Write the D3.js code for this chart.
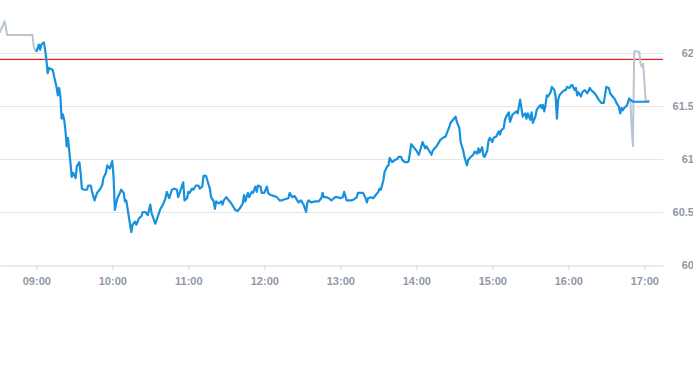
<!DOCTYPE html>
<html>
<head>
<meta charset="utf-8">
<script src="https://cdn.jsdelivr.net/npm/d3@7"></script>
<style>
  html, body { margin: 0; padding: 0; background: #fff; }
  svg { display: block; }
  text { font-family: "Liberation Sans", Arial, sans-serif; }
</style>
</head>
<body>
<svg id="chart" width="693" height="365"></svg>
<script>
// ---- data (minutes after 09:00, price) ----
const hourTicks = [0, 60, 120, 180, 240, 300, 360, 420, 480];
const hourLabels = ["09:00","10:00","11:00","12:00","13:00","14:00","15:00","16:00","17:00"];
const priceTicks = [60, 60.5, 61, 61.5, 62];
const priceLabels = ["60", "60.5", "61", "61.5", "62"];
const previousClose = 61.94;

const preMinutes = [-29, -25, -23, -3, -2, -1, 0];
const prePrices  = [62.19, 62.30, 62.17, 62.17, 62.05, 62.03, 62.01];

const mainMinutes = [
  0,2,3,4,6,7,8,9,10,13,
  14,16,17,18,19,20,21,22,23,24,
  25,26,27,28,29,31,32,34,35,36,
  38,40,41,43,44,46,48,50,52,53,
  55,56,58,60,61,62,64,66,67,69,
  70,71,73,75,76,78,79,81,83,84,
  86,88,90,91,93,94,96,98,100,102,
  103,105,107,109,111,112,114,116,117,119,
  120,121,123,124,126,128,129,131,132,134,
  135,137,138,140,141,142,144,146,147,148,
  150,152,154,156,157,159,161,163,164,165,
  167,168,170,171,173,174,175,177,178,180,
  182,183,185,188,190,192,194,196,199,200,
  202,204,206,207,209,211,213,214,215,217,
  220,223,225,226,227,229,231,233,234,236,
  238,240,242,243,245,247,249,251,253,254,
  256,258,260,261,262,264,266,268,270,271,
  272,274,275,277,278,279,281,283,285,286,
  288,289,291,293,294,296,298,300,302,303,
  305,307,308,310,312,313,316,317,319,321,
  323,324,326,327,329,331,332,334,335,337,
  338,340,341,343,345,346,348,349,350,352,
  353,354,356,357,358,360,361,363,365,366,
  367,369,370,371,373,374,376,379,380,382,
  384,386,387,388,390,391,392,394,395,396,
  398,399,400,401,402,403,404,406,407,409,
  410,411,412,413,415,417,418,419,421,422,
  423,425,426,427,428,430,431,433,435,437,
  438,440,442,444,446,448,449,450,452,453,
  455,457,458,460,461,462,463,464,466,467,
  468,469,471,484
];
const mainPrices = [
  62.01,62.08,62.03,62.08,62.10,62.03,61.93,61.81,61.86,61.84,
  61.78,61.68,61.60,61.67,61.59,61.38,61.42,61.37,61.27,61.12,
  61.20,61.08,60.96,60.83,60.87,60.82,60.93,60.97,60.87,60.72,
  60.71,60.71,60.75,60.75,60.69,60.61,60.68,60.71,60.75,60.82,
  60.87,60.94,60.91,60.98,60.83,60.52,60.63,60.68,60.71,60.68,
  60.60,60.61,60.46,60.31,60.38,60.41,60.38,60.44,60.46,60.50,
  60.50,60.47,60.57,60.49,60.42,60.39,60.46,60.53,60.57,60.63,
  60.69,60.63,60.71,60.72,60.71,60.64,60.71,60.78,60.61,60.63,
  60.69,60.68,60.72,60.71,60.75,60.75,60.72,60.74,60.84,60.84,
  60.80,60.72,60.64,60.60,60.53,60.60,60.58,60.60,60.57,60.61,
  60.64,60.61,60.58,60.54,60.52,60.51,60.54,60.58,60.66,60.60,
  60.68,60.64,60.69,60.68,60.74,60.69,60.75,60.74,60.68,60.68,
  60.74,60.68,60.66,60.65,60.64,60.61,60.61,60.62,60.63,60.68,
  60.64,60.65,60.61,60.59,60.61,60.57,60.50,60.59,60.61,60.59,
  60.60,60.60,60.63,60.68,60.64,60.64,60.63,60.61,60.62,60.64,
  60.64,60.63,60.64,60.69,60.61,60.61,60.61,60.62,60.64,60.68,
  60.68,60.68,60.63,60.59,60.63,60.64,60.63,60.66,60.69,60.72,
  60.71,60.80,60.88,60.93,60.94,61.01,60.97,60.99,61.00,61.02,
  61.02,60.99,60.97,60.97,60.98,61.14,61.11,61.08,61.04,61.08,
  61.16,61.10,61.12,61.08,61.04,61.08,61.12,61.14,61.18,61.20,
  61.21,61.24,61.30,61.34,61.37,61.40,61.35,61.29,61.16,61.08,
  61.02,60.94,60.99,61.02,61.04,61.07,61.05,61.10,61.06,61.11,
  61.03,61.02,61.08,61.17,61.20,61.16,61.20,61.21,61.26,61.23,
  61.27,61.29,61.37,61.40,61.44,61.35,61.42,61.45,61.43,61.56,
  61.40,61.43,61.38,61.43,61.37,61.44,61.34,61.40,61.46,61.48,
  61.51,61.48,61.51,61.45,61.51,61.60,61.59,61.63,61.68,61.65,
  61.59,61.38,61.56,61.60,61.63,61.65,61.65,61.68,61.67,61.69,
  61.70,61.65,61.67,61.60,61.63,61.59,61.63,61.65,61.62,61.67,
  61.65,61.63,61.60,61.56,61.53,61.53,61.60,61.68,61.67,61.62,
  61.59,61.56,61.53,61.49,61.43,61.48,61.46,61.48,61.50,61.53,
  61.57,61.56,61.54,61.54
];

const postMinutes = [469, 470, 471, 472, 473, 476, 477, 478, 479, 480, 481, 484];
const postPrices  = [61.56, 61.30, 61.12, 62.01, 62.02, 62.01, 61.90, 61.87, 61.90, 61.75, 61.55, 61.55];

// ---- layout ----
const W = 693, H = 365;
const plotLeft = 0, plotRight = 663, plotTop = 0, plotBottom = 265;

const svg = d3.select("#chart");

const x = d3.scaleLinear()
  .domain([-36.3 / 76 * 60, (663 - 36.3) / 76 * 60])
  .range([plotLeft, plotRight]);
const y = d3.scaleLinear().domain([60, 62.5]).range([plotBottom, plotTop]);

const zip = (ms, ps) => ms.map((m, i) => [m, ps[i]]);
const line = d3.line().x(d => x(d[0])).y(d => y(d[1]));

svg.append("defs").append("clipPath").attr("id", "clip")
  .append("rect").attr("x", plotLeft).attr("y", plotTop - 2)
  .attr("width", plotRight - plotLeft).attr("height", plotBottom - plotTop + 2);

// gridlines
svg.append("g").selectAll("line")
  .data(priceTicks.filter(v => v !== 60))
  .join("line")
  .attr("x1", plotLeft).attr("x2", plotRight)
  .attr("y1", d => Math.round(y(d)) + 0.5).attr("y2", d => Math.round(y(d)) + 0.5)
  .attr("stroke", "#e6e6e6").attr("stroke-width", 1);

// y labels (right side)
svg.append("g").selectAll("text")
  .data(priceTicks)
  .join("text")
  .attr("x", 694).attr("y", d => y(d) + 4)
  .attr("text-anchor", "end")
  .attr("font-size", "11px").attr("font-weight", "bold")
  .attr("fill", "#8f98a6")
  .text((d, i) => priceLabels[i]);

// x axis
const xAxis = d3.axisBottom(x)
  .tickValues(hourTicks)
  .tickFormat((d, i) => hourLabels[i])
  .tickSize(5).tickSizeOuter(0);
const gx = svg.append("g").attr("transform", `translate(0,${plotBottom + 0.5})`).call(xAxis);
gx.select(".domain").attr("stroke", "#ccd6eb");
gx.selectAll(".tick line").attr("stroke", "#ccd6eb");
gx.selectAll(".tick text")
  .attr("font-family", "Liberation Sans, Arial, sans-serif")
  .attr("font-size", "11px").attr("font-weight", "bold")
  .attr("fill", "#8f98a6").attr("dy", "1.05em");

// previous close line
svg.append("rect")
  .attr("x", plotLeft).attr("width", plotRight - plotLeft)
  .attr("y", y(previousClose) - 0.6).attr("height", 1.3)
  .attr("fill", "#e3262b");

const lines = svg.append("g").attr("clip-path", "url(#clip)");
lines.append("path").datum(zip(preMinutes, prePrices))
  .attr("d", line).attr("fill", "none").attr("stroke", "#b9c5cf")
  .attr("stroke-width", 2).attr("stroke-linejoin", "round");
lines.append("path").datum(zip(postMinutes, postPrices))
  .attr("d", line).attr("fill", "none").attr("stroke", "#b9c5cf")
  .attr("stroke-width", 2).attr("stroke-linejoin", "round");
lines.append("path").datum(zip(mainMinutes, mainPrices))
  .attr("d", line).attr("fill", "none").attr("stroke", "#1791de")
  .attr("stroke-width", 2.2).attr("stroke-linejoin", "round");
</script>
</body>
</html>
